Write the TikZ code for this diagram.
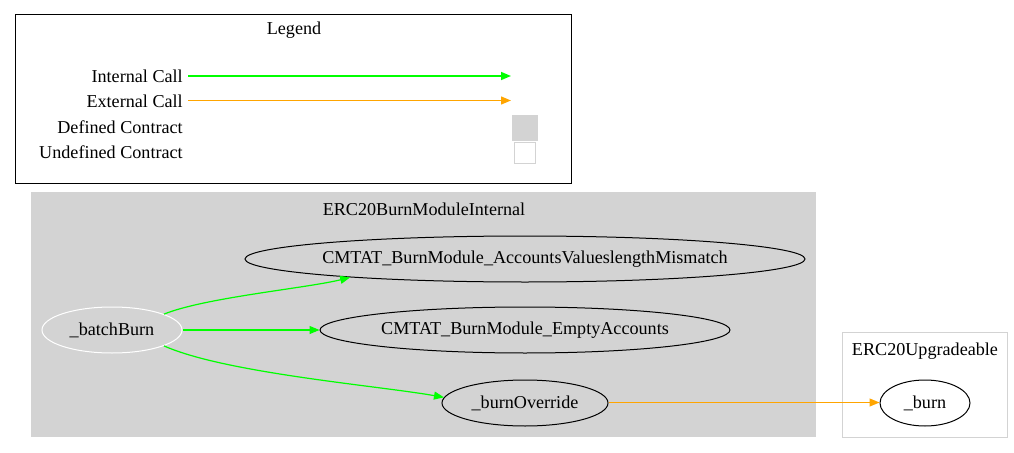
\documentclass[tikz,border=0pt]{standalone}
\usepackage{fontspec}
\setmainfont{Liberation Serif}
\usetikzlibrary{shapes.geometric,arrows.meta}
\definecolor{gvgreen}{HTML}{00FF00}
\definecolor{gvorange}{HTML}{FFA500}
\definecolor{gvgray}{HTML}{D3D3D3}
\tikzset{
  every node/.style={font=\fontsize{13.6}{16}\selectfont},
  fn/.style={ellipse, draw=black, line width=0.75pt, inner xsep=-30pt, inner ysep=0pt, minimum height=34.5pt},
  lbl/.style={anchor=east, inner sep=0pt},
  tip/.style={-{Triangle[length=7.5pt,width=6pt]}},
  icall/.style={tip, draw=gvgreen, line width=0.9pt},
  ecall/.style={tip, draw=gvorange, line width=0.9pt},
}
\begin{document}
\begin{tikzpicture}[x=0.75pt,y=-0.75pt]
\useasboundingbox (0,0) rectangle (1014,453);
% Legend
\draw[black, line width=0.75pt] (15,15) rectangle (571,183);
\node (legtitle) at (294,30) {Legend};
\node[lbl] (lic) at (183,76) {Internal Call};
\node[lbl] (lec) at (183,101) {External Call};
\node[lbl] (ldc) at (183,127) {Defined Contract};
\node[lbl] (luc) at (183,152) {Undefined Contract};
\coordinate (lics) at (188,76);
\coordinate (lice) at (511,76);
\coordinate (lecs) at (188,100.5);
\coordinate (lece) at (511,100.5);
\draw[icall, line width=1.1pt] (lics) -- (lice);
\draw[ecall] (lecs) -- (lece);
\node[draw=gvgray, fill=gvgray, minimum width=18.75pt, minimum height=18.75pt, inner sep=0pt] (ldef) at (525,127.5) {};
\node[draw=gvgray, fill=white, minimum width=16pt, minimum height=16pt, inner sep=0pt, line width=0.75pt] (lundef) at (525,153) {};
% Cluster ERC20BurnModuleInternal
\fill[gvgray] (31,192) rectangle (816,437);
\node (c1title) at (424,209) {ERC20BurnModuleInternal};
\node[fn, draw=white, minimum width=105pt] (bb) at (112,330) {\_batchBurn};
\node[fn, minimum width=420pt] (mm) at (525,259) {CMTAT\_BurnModule\_AccountsValueslengthMismatch};
\node[fn, minimum width=307.5pt] (ea) at (525,330) {CMTAT\_BurnModule\_EmptyAccounts};
\node[fn, minimum width=124.5pt] (bo) at (525,403) {\_burnOverride};
% Cluster ERC20Upgradeable
\draw[gvgray, line width=0.75pt] (842,332) rectangle (1007,437);
\node (c2title) at (925,351) {ERC20Upgradeable};
\node[fn, minimum width=67.5pt] (burn) at (925,403) {\_burn};
% Edges
\draw[icall] (bb.17) to[out=22,in=194,looseness=0.6] (mm.186);
\draw[icall] (bb) -- (ea);
\draw[icall] (bb.-17) to[out=-24,in=170,looseness=0.6] (bo.176);
\draw[ecall] ([yshift=0.375pt]bo.east) -- ([yshift=0.375pt]burn.west);
\end{tikzpicture}
\end{document}
